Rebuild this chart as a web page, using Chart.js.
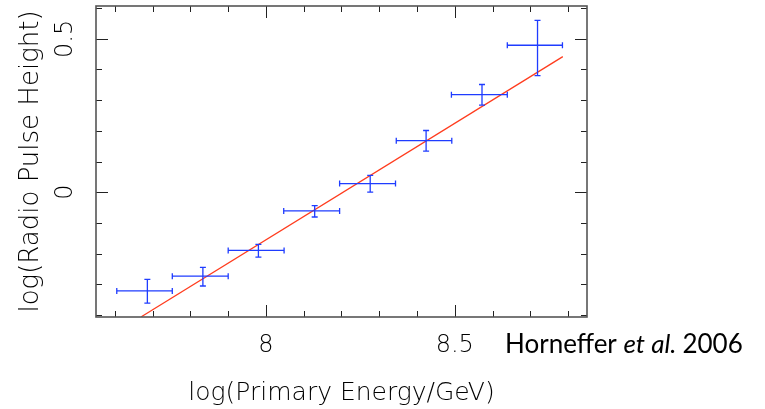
<!DOCTYPE html>
<html>
<head>
<meta charset="utf-8">
<script src="https://cdn.jsdelivr.net/npm/chart.js@4.4.0/dist/chart.umd.min.js"></script>
<style>
body { margin: 0; background: #fff; }
</style>
</head>
<body>
<canvas id="myChart" width="765" height="409"></canvas>
<script>

// log(Primary Energy/GeV) bins
const energy   = [7.686, 7.833, 7.980, 8.129, 8.276, 8.424, 8.572, 8.719]
const energyLo = [7.605, 7.752, 7.900, 8.047, 8.195, 8.345, 8.491, 8.639]
const energyHi = [7.752, 7.900, 8.048, 8.195, 8.343, 8.492, 8.639, 8.785]

// log(Radio Pulse Height)
const pulse   = [-0.322, -0.274, -0.190, -0.061, 0.028, 0.168, 0.318, 0.479]
const pulseLo = [-0.362, -0.306, -0.212, -0.081, 0.000, 0.134, 0.284, 0.380]
const pulseHi = [-0.284, -0.245, -0.170, -0.044, 0.055, 0.201, 0.351, 0.560]

// fitted line end points
const fitX = [7.670, 8.786]
const fitY = [-0.406, 0.442]

const xTicks = [7.6, 7.7, 7.8, 7.9, 8, 8.1, 8.2, 8.3, 8.4, 8.5, 8.6, 8.7, 8.8]
const xLabels = [8, 8.5]
const yTicks = [-0.4, -0.3, -0.2, -0.1, 0, 0.1, 0.2, 0.3, 0.4, 0.5, 0.6]
const yLabels = [0, 0.5]

const FONT = '"DejaVu Sans", sans-serif'

const frameTicks = {
    id: 'frameTicks',
    afterDatasetsDraw(chart) {
        const c = chart.ctx
        const a = chart.chartArea
        const xs = chart.scales.x
        const ys = chart.scales.y
        c.save()

        // error bars
        c.strokeStyle = '#1f3cff'
        c.lineWidth = 1.3
        for (let i = 0; i < energy.length; i++) {
            const px = xs.getPixelForValue(energy[i])
            const py = ys.getPixelForValue(pulse[i])
            const x0 = xs.getPixelForValue(energyLo[i])
            const x1 = xs.getPixelForValue(energyHi[i])
            const y0 = ys.getPixelForValue(pulseLo[i])
            const y1 = ys.getPixelForValue(pulseHi[i])
            c.beginPath()
            c.moveTo(x0, py); c.lineTo(x1, py)
            c.moveTo(x0, py - 3); c.lineTo(x0, py + 3)
            c.moveTo(x1, py - 3); c.lineTo(x1, py + 3)
            c.moveTo(px, y0); c.lineTo(px, y1)
            c.moveTo(px - 3, y0); c.lineTo(px + 3, y0)
            c.moveTo(px - 3, y1); c.lineTo(px + 3, y1)
            c.stroke()
        }

        // tick marks, inward on all sides
        c.strokeStyle = '#222'
        c.lineWidth = 1
        c.beginPath()
        xTicks.forEach(v => {
            const p = Math.round(xs.getPixelForValue(v)) + 0.5
            const len = xLabels.includes(v) ? 12 : 6
            c.moveTo(p, a.bottom); c.lineTo(p, a.bottom - len)
            c.moveTo(p, a.top); c.lineTo(p, a.top + len)
        })
        yTicks.forEach(v => {
            const p = Math.round(ys.getPixelForValue(v)) + 0.5
            const len = yLabels.includes(v) ? 12 : 6
            c.moveTo(a.left, p); c.lineTo(a.left + len, p)
            c.moveTo(a.right, p); c.lineTo(a.right - len, p)
        })
        c.stroke()

        // frame
        c.strokeStyle = '#555'
        c.lineWidth = 1.6
        c.strokeRect(a.left, a.top, a.right - a.left, a.bottom - a.top)

        // rotated y tick labels
        c.fillStyle = '#000'
        c.font = '200 24px ' + FONT
        c.textAlign = 'center'
        c.textBaseline = 'middle'
        yLabels.forEach(v => {
            c.save()
            c.translate(66, ys.getPixelForValue(v))
            c.rotate(-Math.PI / 2)
            c.fillText(String(v), 0, 0)
            c.restore()
        })

        // credit
        c.fillStyle = '#000'
        c.textAlign = 'left'
        c.textBaseline = 'alphabetic'
        let tx = 505
        const ty = 353
        c.font = '26px Lato, sans-serif'
        c.fillText('Horneffer ', tx, ty)
        tx += c.measureText('Horneffer ').width
        c.font = 'italic 26px Lato, sans-serif'
        c.fillText('et al.', tx, ty)
        tx += c.measureText('et al. ').width
        c.font = '26px Lato, sans-serif'
        c.fillText('2006', tx, ty)

        c.restore()
    }
}

const ctx = document.getElementById('myChart')
new Chart(ctx, {
    type: 'scatter',
    data: {
        datasets: [{
            label: 'fit',
            type: 'line',
            data: fitX.map((x, i) => ({ x: x, y: fitY[i] })),
            borderColor: '#ff3c1e',
            borderWidth: 1.3,
            pointRadius: 0,
            fill: false
        }, {
            label: 'data',
            data: energy.map((x, i) => ({ x: x, y: pulse[i] })),
            pointRadius: 0,
            showLine: false
        }]
    },
    options: {
        responsive: false,
        animation: false,
        layout: { padding: { top: 6, right: 178, left: 0, bottom: 0 } },
        plugins: { legend: { display: false }, tooltip: { enabled: false } },
        scales: {
            x: {
                type: 'linear',
                min: 7.55,
                max: 8.85,
                grid: { display: false, drawTicks: false },
                border: { display: false },
                afterBuildTicks: s => { s.ticks = xLabels.map(v => ({ value: v })) },
                afterFit: s => { s.height = 92 },
                ticks: {
                    autoSkip: false,
                    maxRotation: 0,
                    padding: 14,
                    color: '#000',
                    callback: v => String(v),
                    font: { family: FONT, size: 24, weight: '200' }
                },
                title: {
                    display: true,
                    text: 'log(Primary Energy/GeV)',
                    color: '#000',
                    padding: { top: 0, bottom: 1 },
                    font: { family: FONT, size: 25, weight: '200' }
                }
            },
            y: {
                type: 'linear',
                min: -0.407,
                max: 0.607,
                grid: { display: false, drawTicks: false },
                border: { display: false },
                afterFit: s => { s.width = 96 },
                ticks: { display: false },
                title: {
                    display: true,
                    text: 'log(Radio Pulse Height)',
                    color: '#000',
                    padding: { top: 16, bottom: 0 },
                    font: { family: FONT, size: 26, weight: '200' }
                }
            }
        }
    },
    plugins: [frameTicks]
})
</script>
</body>
</html>
